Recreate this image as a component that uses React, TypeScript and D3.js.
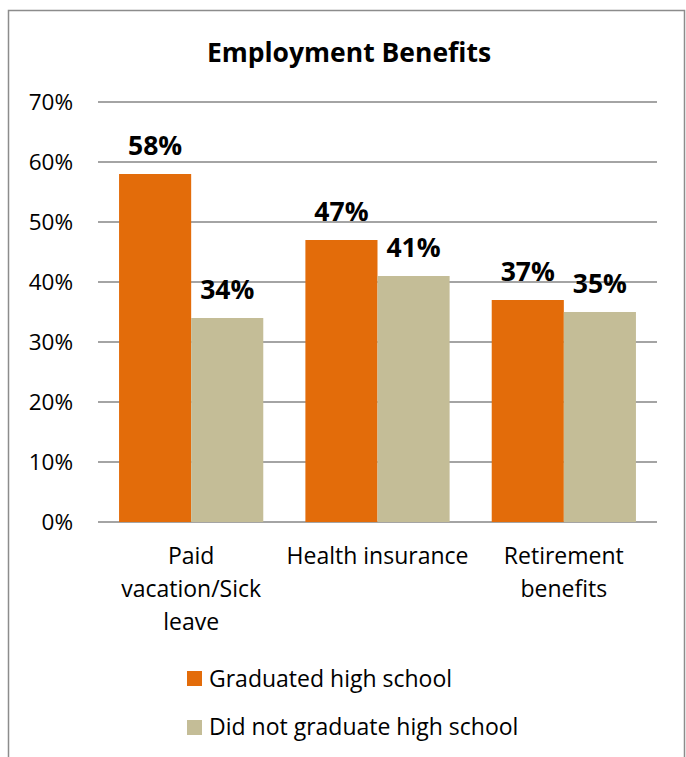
import React from "react";
import * as d3 from "d3";

const categories = ["Paid vacation/Sick leave", "Health insurance", "Retirement benefits"];
const categoryLines = [["Paid", "vacation/Sick", "leave"], ["Health insurance"], ["Retirement", "benefits"]];
const seriesNames = ["Graduated high school", "Did not graduate high school"];
const graduated = [58, 47, 37];
const notGraduated = [34, 41, 35];
const yTicks = [0, 10, 20, 30, 40, 50, 60, 70];
const colors = ["#E36C0A", "#C4BD97"];

export default function App() {
  const W = 686, H = 757;
  const left = 98, right = 657, top = 102, bottom = 522;
  const x0 = d3.scaleBand<string>().domain(categories).range([left, right]).paddingInner(0.226).paddingOuter(0.113);
  const x1 = d3.scaleBand<number>().domain([0, 1]).range([0, x0.bandwidth()]);
  const y = d3.scaleLinear().domain([0, 70]).range([bottom, top]);
  const series = [graduated, notGraduated];
  const font = "'Open Sans', sans-serif";
  return (
    <svg width={W} height={H} style={{ position: "absolute", left: 0, top: 0 }} fontFamily={font}>
      <rect x={0} y={0} width={W} height={H} fill="#fff" />
      <path d={`M8.5,${H} V10.5 H684.5 V${H}`} fill="none" stroke="#8c8c8c" strokeWidth={1.5} />
      <text x={349} y={62} textAnchor="middle" fontSize={26.5} fontWeight="bold" fill="#000">Employment Benefits</text>
      {yTicks.map(t => (
        <g key={t}>
          <line x1={left} x2={right} y1={y(t)} y2={y(t)} stroke="#868686" strokeWidth={1.5} />
          <text x={73} y={y(t) + 8} textAnchor="end" fontSize={22.5} fill="#000">{t}%</text>
        </g>
      ))}
      {categories.map((c, i) => (
        <g key={c}>
          {series.map((s, j) => (
            <rect key={j} x={(x0(c) as number) + (x1(j) as number)} y={y(s[i])} width={x1.bandwidth()} height={bottom - y(s[i])} fill={colors[j]} />
          ))}
          {series.map((s, j) => (
            <text key={"l" + j} x={(x0(c) as number) + (x1(j) as number) + x1.bandwidth() / 2} y={y(s[i]) - 19} textAnchor="middle" fontSize={26.5} fontWeight="bold" fill="#000">{s[i]}%</text>
          ))}
          {categoryLines[i].map((ln, k) => (
            <text key={"c" + k} x={(x0(c) as number) + x0.bandwidth() / 2} y={564 + k * 33} textAnchor="middle" fontSize={23} fill="#000">{ln}</text>
          ))}
        </g>
      ))}
      {seriesNames.map((n, j) => (
        <g key={n}>
          <rect x={187} y={671 + j * 49} width={15} height={15} fill={colors[j]} />
          <text x={209} y={687 + j * 48} fontSize={23} fill="#000">{n}</text>
        </g>
      ))}
    </svg>
  );
}
